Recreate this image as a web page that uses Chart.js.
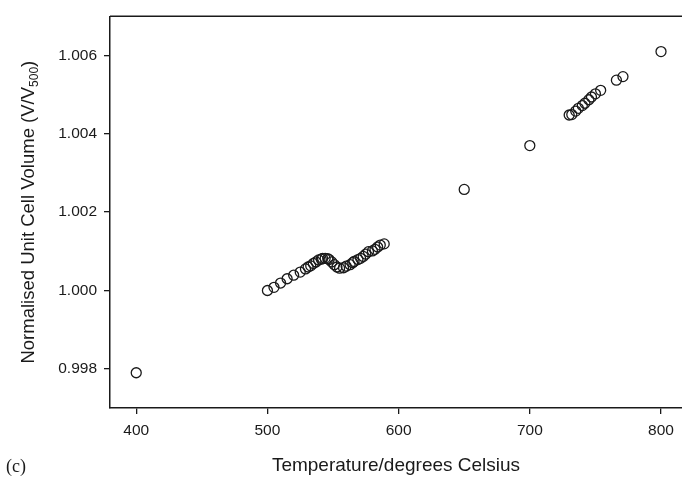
<!DOCTYPE html>
<html>
<head>
<meta charset="utf-8">
<script src="https://cdn.jsdelivr.net/npm/chart.js@4"></script>
<style>
    body {margin: 0; background: #fff;}
    #wrap {position: relative; width: 682px; height: 485px; overflow: hidden;}
</style>
</head>
<body>
<div id="wrap"><canvas id="volumeChart" width="682" height="485"></canvas></div>
<script>
/* ------------normalised unit cell volume vs temperature scatter----------------- */

// temperatures (degrees Celsius)
const temperatures = [
    400,
    500, 505, 510, 515, 520, 525, 529, 531, 533, 535, 537, 539, 541, 542, 544, 546, 547, 549,
    551, 553, 555, 558, 560, 563, 565, 566, 569, 571, 573, 575, 577, 580, 582, 584, 586, 589,
    650, 700,
    730, 732, 735, 737, 740, 742, 745, 747, 750, 754,
    766, 771, 800
];
// normalised volumes V/V500, same order
const volumes = [
    0.99790,
    1.00000, 1.00008, 1.00019, 1.00030, 1.00039, 1.00047, 1.00055, 1.00060, 1.00063, 1.00069,
    1.00073, 1.00078, 1.00080, 1.00082, 1.00082, 1.00081, 1.00079, 1.00073,
    1.00066, 1.00060, 1.00057, 1.00058, 1.00062, 1.00066, 1.00071, 1.00074, 1.00079, 1.00082,
    1.00087, 1.00093, 1.00099, 1.00101, 1.00105, 1.00111, 1.00116, 1.00119,
    1.00258, 1.00370,
    1.00448, 1.00449, 1.00458, 1.00465, 1.00472, 1.00478, 1.00487, 1.00494, 1.00502, 1.00511,
    1.00537, 1.00546, 1.00610
];
const xTicks = [400, 500, 600, 700, 800];
const yTicks = [0.998, 1.000, 1.002, 1.004, 1.006];

const yTitle = "Normalised Unit Cell Volume (V/V";
const ySub = "500";
const xTitle = "Temperature/degrees Celsius";
const panelLabel = "(c)";

const ink = "#1a1a1a";

// frame top line, rotated y title with subscript, panel letter
const decorations = {
    id: "decorations",
    afterDraw(chart) {
        const {ctx, chartArea} = chart;
        ctx.save();
        ctx.strokeStyle = ink; ctx.lineWidth = 1.5;
        ctx.beginPath();
        ctx.moveTo(chartArea.left, chartArea.top);
        ctx.lineTo(chartArea.right, chartArea.top);
        ctx.stroke();

        // y title drawn rotated so the subscript can be placed
        ctx.fillStyle = ink;
        ctx.translate(34, (chartArea.top + chartArea.bottom) / 2);
        ctx.rotate(-Math.PI / 2);
        const mainFont = "18.5px 'Liberation Sans', Arial, sans-serif";
        const subFont = "12px 'Liberation Sans', Arial, sans-serif";
        ctx.font = mainFont; const w1 = ctx.measureText(yTitle).width;
        const wp = ctx.measureText(")").width;
        ctx.font = subFont; const w2 = ctx.measureText(ySub).width;
        let x = -(w1 + w2 + wp) / 2;
        ctx.textBaseline = "alphabetic"; ctx.textAlign = "left";
        ctx.font = mainFont; ctx.fillText(yTitle, x, 0); x += w1;
        ctx.font = subFont; ctx.fillText(ySub, x, 4); x += w2;
        ctx.font = mainFont; ctx.fillText(")", x, 0);
        ctx.restore();

        ctx.save();
        ctx.fillStyle = ink;
        ctx.font = "18px 'Liberation Serif', 'Times New Roman', serif";
        ctx.textBaseline = "alphabetic";
        ctx.fillText(panelLabel, 6, 472);
        ctx.restore();
    }
};

const points = temperatures.map((t, i) => ({x: t, y: volumes[i]}));

new Chart(document.getElementById("volumeChart"), {
    type: "scatter",
    data: {
        datasets: [{
            data: points,
            pointStyle: "circle", pointRadius: 5, pointHoverRadius: 5,
            pointBorderWidth: 1.3, borderColor: ink, backgroundColor: "rgba(0,0,0,0)"
        }]
    },
    options: {
        responsive: false, animation: false, devicePixelRatio: 1,
        //no auto room for the point radius: plot runs off the right edge like the scan
        layout: {autoPadding: false, padding: {top: 14, left: 0, right: 0, bottom: 0}},
        scales: {
            x: {
                type: "linear", min: 380, max: 816,
                afterBuildTicks: (s) => { s.ticks = xTicks.map(v => ({value: v})); },
                afterFit: (s) => { s.height = 77; s.paddingRight = 0; s.paddingLeft = 0; },
                border: {display: true, color: ink, width: 1.5},
                grid: {display: true, drawOnChartArea: false, drawTicks: true, tickLength: 6, color: ink, lineWidth: 1.3},
                ticks: {color: ink, padding: 7, maxRotation: 0, font: {family: "'Liberation Sans', Arial, sans-serif", size: 15.5}},
                title: {display: true, text: xTitle, color: ink, padding: {top: 0, bottom: 8},
                        font: {family: "'Liberation Sans', Arial, sans-serif", size: 19}}
            },
            y: {
                type: "linear", min: 0.997, max: 1.007,
                afterBuildTicks: (s) => { s.ticks = yTicks.map(v => ({value: v})); },
                afterFit: (s) => { s.width = 110; },
                border: {display: true, color: ink, width: 1.5},
                grid: {display: true, drawOnChartArea: false, drawTicks: true, tickLength: 6, color: ink, lineWidth: 1.3},
                ticks: {color: ink, padding: 7, callback: (v) => v.toFixed(3),
                        font: {family: "'Liberation Sans', Arial, sans-serif", size: 15.5}}
            }
        },
        plugins: {legend: {display: false}, tooltip: {enabled: false}}
    },
    plugins: [decorations]
});
</script>
</body>
</html>
